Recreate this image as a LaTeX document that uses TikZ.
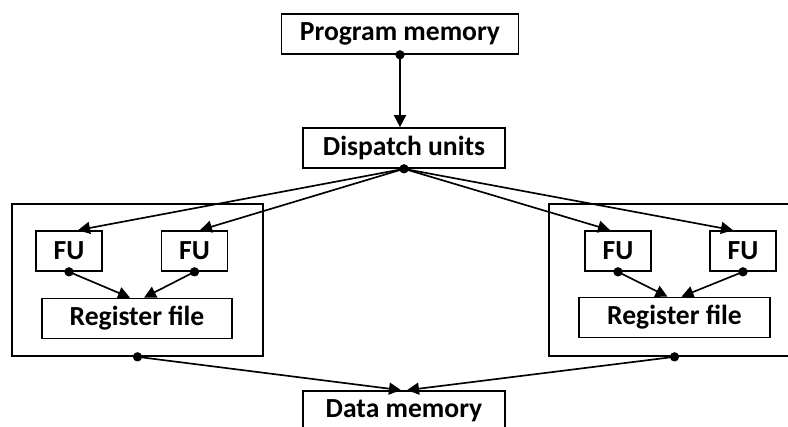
\documentclass[tikz,border=0pt]{standalone}
\usepackage{fontspec}
\setmainfont{Carlito}
\usetikzlibrary{arrows.meta,calc}
\begin{document}
\begin{tikzpicture}[x=0.75pt,y=-0.75pt,
  box/.style={draw, line width=1.25pt, inner sep=0pt, minimum height=30pt,
              font=\bfseries\fontsize{20.7}{24}\selectfont},
  frame/.style={draw, line width=1.25pt, inner sep=0pt, minimum width=188.25pt, minimum height=114pt},
  link/.style={line width=1.25pt, -{Triangle[length=9pt,width=9pt]}},
  dot/.style={circle, fill, inner sep=0pt, minimum size=7pt}]
\useasboundingbox (0,0) rectangle (788,427);

% clusters
\node[frame] (lc) at (137.5,280) {};
\node[frame] (rc) at (674.5,280) {};

% top level
\node[box, minimum width=177.75pt] (pm) at (400,34) {Program memory};
\node[box, minimum width=151.5pt] (du) at (404,148) {Dispatch units};
\node[box, minimum width=151.5pt] (dm) at (404,411) {Data memory};

% left cluster
\node[box, minimum width=49.5pt] (lf1) at (69,251) {FU};
\node[box, minimum width=49.5pt] (lf2) at (194.5,251) {FU};
\node[box, minimum width=142.5pt] (lr) at (137,318.5) {Register file};

% right cluster
\node[box, minimum width=49.5pt] (rf1) at (618,251) {FU};
\node[box, minimum width=49.5pt] (rf2) at (743,251) {FU};
\node[box, minimum width=143.25pt] (rr) at (674.5,317.5) {Register file};

% junction dots
\node[dot] (pmd) at (pm.south) {};
\node[dot] (dud) at (du.south) {};
\node[dot] (lf1d) at (lf1.south) {};
\node[dot] (lf2d) at (lf2.south) {};
\node[dot] (rf1d) at (rf1.south) {};
\node[dot] (rf2d) at (rf2.south) {};
\node[dot] (lcd) at (lc.south) {};
\node[dot] (rcd) at (rc.south) {};

% connectors
\draw[link] (pmd.center) -- (pmd.center |- du.north);
\draw[link] (dud.center) -- ([xshift=6.75pt]lf1.north);
\draw[link] (dud.center) -- ([xshift=4.1pt]lf2.north);
\draw[link] (dud.center) -- ([xshift=-6pt]rf1.north);
\draw[link] (dud.center) -- ([xshift=-7.5pt]rf2.north);
\draw[link] (lf1d.center) -- ([xshift=-5.25pt]lr.north);
\draw[link] (lf2d.center) -- ([xshift=5.25pt]lr.north);
\draw[link] (rf1d.center) -- ([xshift=-5.25pt]rr.north);
\draw[link] (rf2d.center) -- ([xshift=5.25pt]rr.north);
\draw[link] (lcd.center) -- ([xshift=-2.25pt]dm.north);
\draw[link] (rcd.center) -- ([xshift=2.25pt]dm.north);
\end{tikzpicture}
\end{document}
